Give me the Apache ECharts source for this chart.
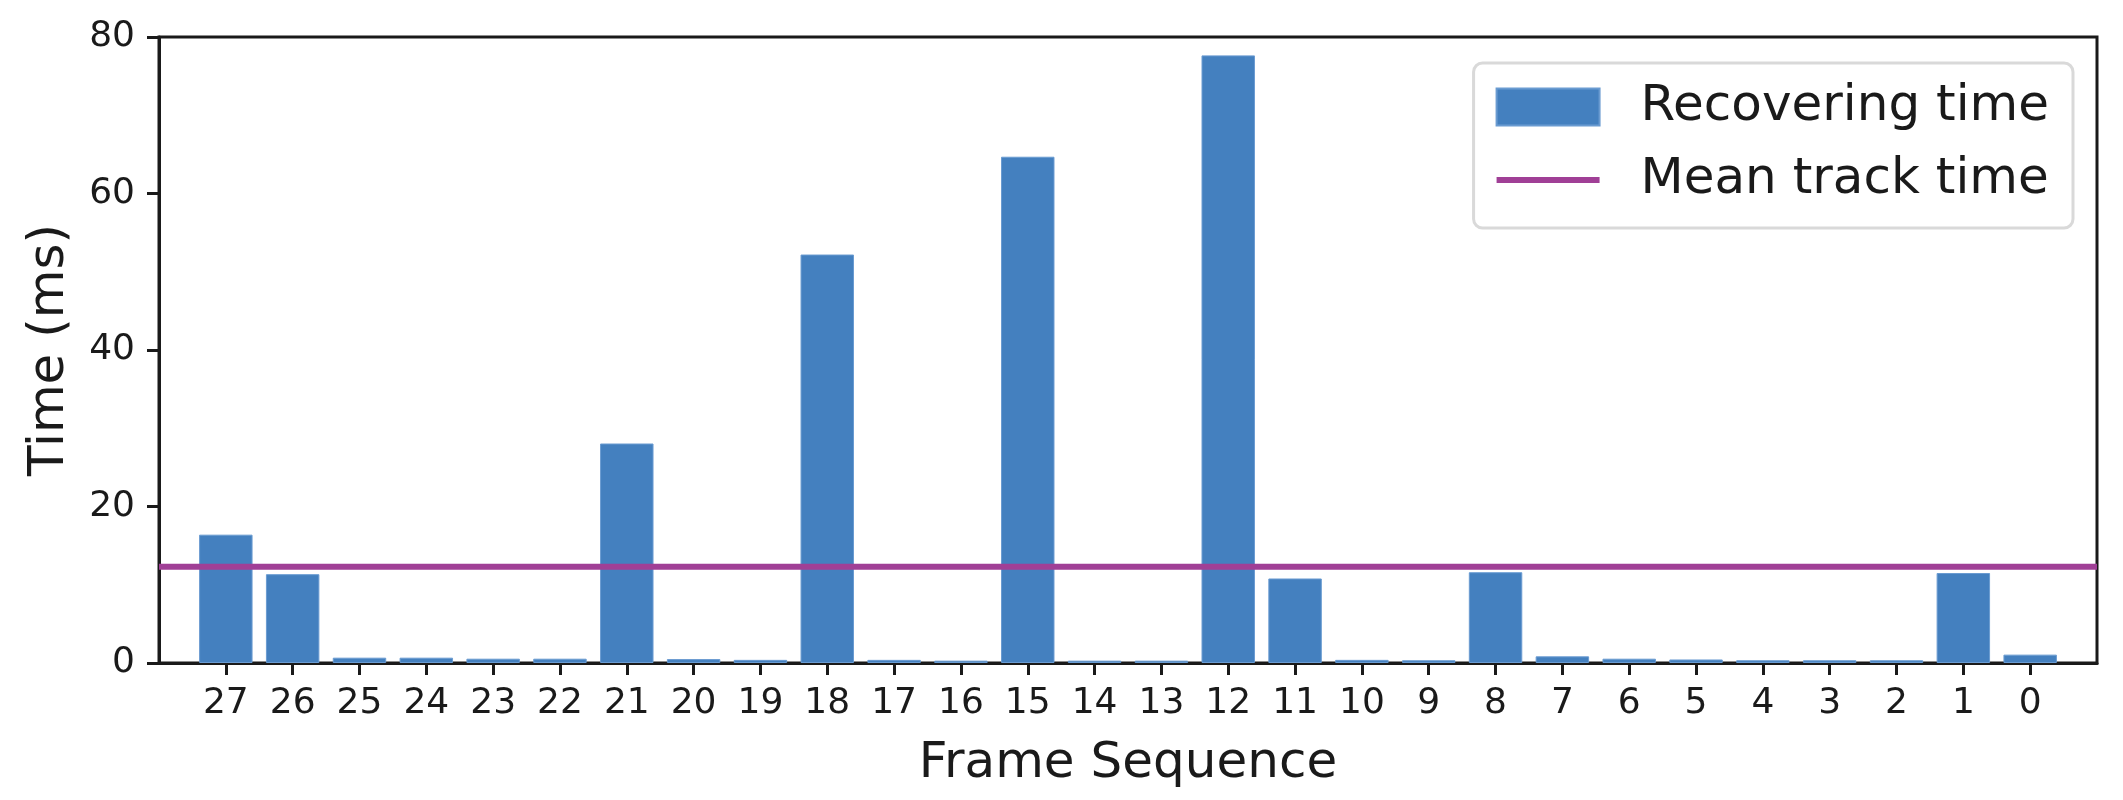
<!DOCTYPE html>
<html>
<head>
<meta charset="utf-8">
<script src="https://cdn.jsdelivr.net/npm/echarts@6/dist/echarts.min.js"></script>
<style>html,body{margin:0;padding:0;background:#fff}#c{width:2123px;height:800px}</style>
</head>
<body>
<div id="c"></div>
<script>
// Data
const categories = ['27','26','25','24','23','22','21','20','19','18','17','16','15','14','13','12','11','10','9','8','7','6','5','4','3','2','1','0'];
const recoveringTime = [16.4, 11.35, 0.68, 0.68, 0.55, 0.55, 28.05, 0.5, 0.4, 52.2, 0.4, 0.3, 64.7, 0.3, 0.3, 77.65, 10.8, 0.4, 0.35, 11.6, 0.85, 0.55, 0.45, 0.35, 0.35, 0.35, 11.5, 1.07];
const meanTrackTime = 12.3;
const yTicks = { min: 0, max: 80, interval: 20 };

// one empty category of padding on each side (matplotlib xlim = [-1, N])
const axisCats = [''].concat(categories, ['']);
const barData = [null].concat(recoveringTime, [null]);
const meanData = axisCats.map(() => meanTrackTime);

const font = 'DejaVu Sans';
const ink = '#1a1a1a';
const purple = '#a03f96';

const chart = echarts.init(document.getElementById('c'), null, { renderer: 'canvas' });
chart.setOption({
  animation: false,
  backgroundColor: '#ffffff',
  textStyle: { fontFamily: font, color: ink },
  grid: {
    left: 159, right: 26, top: 37, bottom: 137,
    show: true, borderColor: ink, borderWidth: 3, backgroundColor: 'transparent'
  },
  legend: {
    orient: 'vertical',
    right: 50, top: 63,
    padding: [19, 24, 23, 20],
    itemWidth: 103, itemHeight: 37, itemGap: 23,
    backgroundColor: '#ffffff',
    borderColor: '#d9d9d9', borderWidth: 3, borderRadius: 9,
    textStyle: { fontFamily: font, fontSize: 50, color: ink, padding: [0, 0, 0, 36] },
    data: [
      { name: 'Recovering time', icon: 'rect' },
      { name: 'Mean track time', itemStyle: { opacity: 0 }, lineStyle: { color: purple, width: 6 } }
    ]
  },
  xAxis: {
    type: 'category',
    data: axisCats,
    boundaryGap: false,
    name: 'Frame Sequence',
    nameLocation: 'middle',
    nameGap: 76,
    nameTextStyle: { fontFamily: font, fontSize: 50, color: ink },
    axisLine: { show: true, lineStyle: { color: ink, width: 3 } },
    axisTick: { show: true, length: 12, lineStyle: { color: ink, width: 3 },
      interval: (i, v) => v !== '' },
    axisLabel: { interval: 0, margin: 23, fontFamily: font, fontSize: 36, color: ink },
    splitLine: { show: false }
  },
  yAxis: {
    type: 'value',
    min: yTicks.min, max: yTicks.max, interval: yTicks.interval,
    name: 'Time (ms)',
    nameLocation: 'middle',
    nameGap: 84,
    nameTextStyle: { fontFamily: font, fontSize: 50, color: ink },
    axisLine: { show: true, lineStyle: { color: ink, width: 3 } },
    axisTick: { show: true, length: 12, lineStyle: { color: ink, width: 3 } },
    axisLabel: { margin: 24, fontFamily: font, fontSize: 36, color: ink },
    splitLine: { show: false }
  },
  series: [
    {
      name: 'Recovering time',
      type: 'bar',
      data: barData,
      barWidth: '80%',
      itemStyle: { color: '#4480bf', borderColor: '#6a9bd1', borderWidth: 1 }
    },
    {
      name: 'Mean track time',
      type: 'line',
      data: meanData,
      symbol: 'none',
      lineStyle: { color: purple, width: 6 },
      itemStyle: { color: purple },
      z: 5
    }
  ]
});
</script>
</body>
</html>
